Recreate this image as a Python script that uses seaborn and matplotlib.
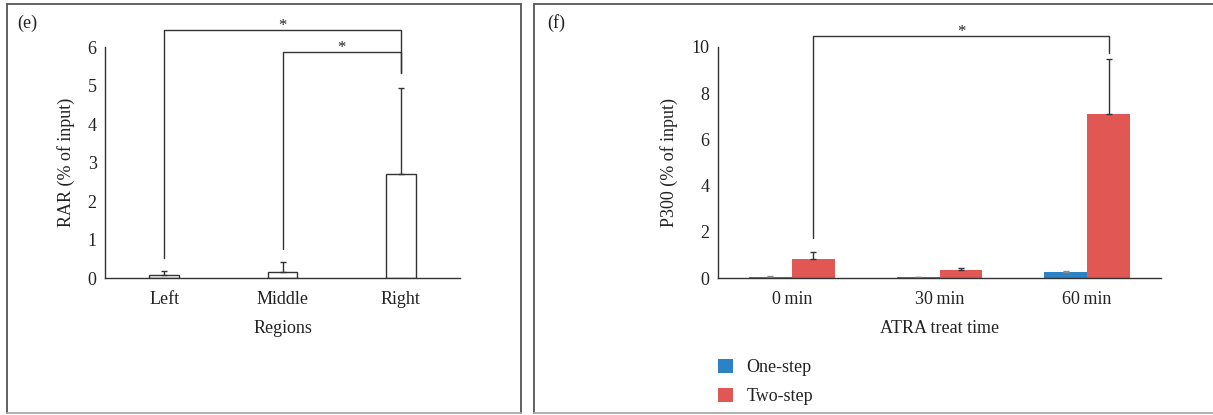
import matplotlib
matplotlib.use("Agg")
import matplotlib.pyplot as plt
from matplotlib.patches import Patch
from matplotlib.lines import Line2D
import seaborn as sns
import pandas as pd
import numpy as np

# ---------------- data ----------------
regions = ["Left", "Middle", "Right"]
rar_mean = [0.08, 0.15, 2.70]
rar_sd = [0.09, 0.27, 2.24]

times = ["0\u2009min", "30\u2009min", "60\u2009min"]
groups = ["One-step", "Two-step"]
one_step_mean = [0.06, 0.05, 0.26]
one_step_sd = [0.03, 0.02, 0.07]
two_step_mean = [0.83, 0.36, 7.09]
two_step_sd = [0.29, 0.10, 2.39]

# significance brackets: (from index, to index, bar height, left leg bottom, right leg bottom)
sig_e = [(0, 2, 6.44, 0.52, 5.33), (1, 2, 5.88, 0.75, 5.33)]
sig_f = [(0, 2, 10.46, 1.73, 9.71)]

# ---------------- style ----------------
sns.set_theme(style="white")
plt.rcParams["font.family"] = ["Liberation Serif", "DejaVu Serif"]
plt.rcParams["font.size"] = 13
plt.rcParams["axes.linewidth"] = 1.0
DARK = "#333333"
TXT = "#222222"
BLUE = "#2b82c5"
RED = "#e05754"
FS = 13

W, H = 1213, 415
fig = plt.figure(figsize=(W / 100, H / 100), dpi=100)


def px_rect(x0, y0, x1, y1):
    return [x0 / W, 1 - y1 / H, (x1 - x0) / W, (y1 - y0) / H]


# panel frames
def frame(x0, y0, x1, y1):
    X = lambda v: v / W
    Y = lambda v: 1 - v / H
    for (xa, ya, xb, yb, c) in [(x0, y0, x1, y0, "#555555"), (x0, y0, x0, y1, "#555555"),
                                (x1, y0, x1, y1, "#555555"), (x0, y1, x1, y1, "#aaaaaa")]:
        fig.add_artist(Line2D([X(xa), X(xb)], [Y(ya), Y(yb)], color=c, lw=1.3,
                              transform=fig.transFigure))


frame(7, 4, 521, 413)
frame(534, 4, 1216, 413)

fig.text(17 / W, 1 - 23 / H, "(e)", fontsize=FS, va="center", ha="left", color=TXT)
fig.text(547 / W, 1 - 23 / H, "(f)", fontsize=FS, va="center", ha="left", color=TXT)


def style_axes(ax):
    for s in ["top", "right"]:
        ax.spines[s].set_visible(False)
    for s in ["left", "bottom"]:
        ax.spines[s].set_color(DARK)
        ax.spines[s].set_linewidth(1.0)
    ax.tick_params(axis="y", direction="in", length=4, width=1.0, color=DARK,
                   labelsize=FS, labelcolor=TXT, pad=6)
    ax.tick_params(axis="x", length=0, labelsize=FS, labelcolor=TXT, pad=9.5)


def bracket(ax, x0, x1, y, b0, b1, star_size=12):
    ax.plot([x0, x0, x1, x1], [b0, y, y, b1], color=DARK, lw=1.0, clip_on=False)
    ax.text((x0 + x1) / 2, y, "*", ha="center", va="baseline", fontsize=star_size,
            color=TXT, clip_on=False)


# ---------------- panel (e) ----------------
ax1 = fig.add_axes(px_rect(105, 47, 460, 278))
df_e = pd.DataFrame({"Regions": regions, "RAR": rar_mean})
sns.barplot(data=df_e, x="Regions", y="RAR", ax=ax1, width=0.25, color="white",
            edgecolor=DARK, linewidth=1.0, errorbar=None)
centers_e = [p.get_x() + p.get_width() / 2 for p in ax1.patches]
ax1.errorbar(centers_e, rar_mean, yerr=[np.zeros(len(rar_sd)), rar_sd], fmt="none",
             ecolor=DARK, elinewidth=1.0, capsize=2.5, capthick=1.0)
ax1.set_ylim(0, 6)
ax1.set_xlim(-0.5, 2.5)
ax1.set_yticks(range(0, 7))
style_axes(ax1)
ax1.set_xlabel("Regions", fontsize=FS, color=TXT, labelpad=8.5)
ax1.set_ylabel("RAR (% of input)", fontsize=FS, color=TXT)
ax1.yaxis.set_label_coords(-0.084, 0.5)
for (i, j, y, b0, b1) in sig_e:
    bracket(ax1, centers_e[i], centers_e[j], y, b0, b1)

# ---------------- panel (f) ----------------
ax2 = fig.add_axes(px_rect(718, 46.7, 1161, 278.3))
df_f = pd.DataFrame({
    "time": times * 2,
    "group": [groups[0]] * 3 + [groups[1]] * 3,
    "value": one_step_mean + two_step_mean,
})
sns.barplot(data=df_f, x="time", y="value", hue="group", ax=ax2, width=0.58,
            palette=[BLUE, RED], errorbar=None, legend=False, linewidth=0, saturation=1)
sds = [one_step_sd, two_step_sd]
means = [one_step_mean, two_step_mean]
ecols = ["#8a8a8a", DARK]
bar_conts = list(ax2.containers)
centers_f = [[p.get_x() + p.get_width() / 2 for p in cont] for cont in bar_conts]
for k in range(len(centers_f)):
    ax2.errorbar(centers_f[k], means[k], yerr=[np.zeros(3), sds[k]], fmt="none",
                 ecolor=ecols[k], elinewidth=1.0, capsize=2.0, capthick=1.0)
ax2.set_ylim(0, 10)
ax2.set_xlim(-0.5, 2.5)
ax2.set_yticks(range(0, 11, 2))
style_axes(ax2)
ax2.set_xticks([0.5, 1.5, 2.5], minor=True)
ax2.tick_params(axis="x", which="minor", direction="in", length=5, width=1.0, color=DARK)
ax2.set_xlabel("ATRA treat time", fontsize=FS, color=TXT, labelpad=8.5)
ax2.set_ylabel("P300 (% of input)", fontsize=FS, color=TXT)
ax2.yaxis.set_label_coords(-0.090, 0.5)
for (i, j, y, b0, b1) in sig_f:
    bracket(ax2, centers_f[1][i], centers_f[1][j], y, b0, b1)

handles = [Patch(facecolor=BLUE, edgecolor="none"), Patch(facecolor=RED, edgecolor="none")]
fig.legend(handles, groups, loc="upper left", bbox_to_anchor=(718 / W, 1 - 358.5 / H),
           frameon=False, fontsize=FS, handlelength=0.85, handleheight=0.85,
           handletextpad=0.72, labelspacing=0.65, borderpad=0, borderaxespad=0,
           labelcolor=TXT)

fig.savefig("out.png", dpi=100)
